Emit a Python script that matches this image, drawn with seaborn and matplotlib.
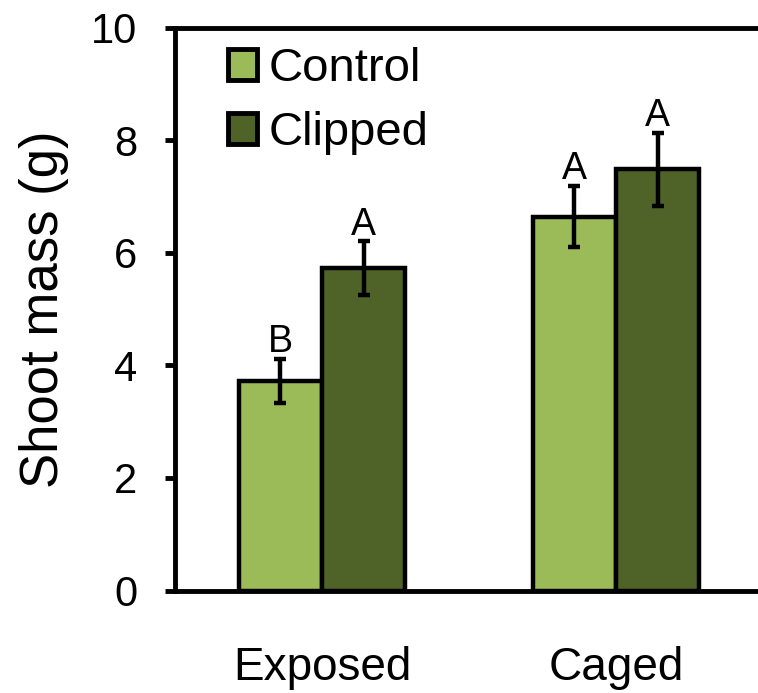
import matplotlib
matplotlib.use("Agg")
import matplotlib.pyplot as plt
import seaborn as sns
import pandas as pd
import numpy as np

# ---- data ----
sites = ["Exposed", "Caged"]
treatments = ["Control", "Clipped"]
control_mass = [3.72, 6.64]
clipped_mass = [5.72, 7.48]
control_se = [0.39, 0.54]
clipped_se = [0.48, 0.65]
control_letters = ["B", "A"]
clipped_letters = ["A", "A"]
y_ticks = [0, 2, 4, 6, 8, 10]
colors = ["#9BBB59", "#4F6228"]

df = pd.DataFrame({
    "site": sites * 2,
    "treatment": [treatments[0]] * 2 + [treatments[1]] * 2,
    "mass": control_mass + clipped_mass,
    "se": control_se + clipped_se,
    "letter": control_letters + clipped_letters,
})

sns.set_style("white")
plt.rcParams["font.family"] = ["Liberation Sans", "DejaVu Sans"]
plt.rcParams["text.color"] = "black"
plt.rcParams["axes.labelcolor"] = "black"
plt.rcParams["xtick.color"] = "black"
plt.rcParams["ytick.color"] = "black"

fig = plt.figure(figsize=(7.58, 6.93), dpi=100)
ax = fig.add_axes([0.2309, 0.1479, 0.7757, 0.8124])

sns.barplot(data=df, x="site", y="mass", hue="treatment", order=sites,
            hue_order=treatments, palette=colors, errorbar=None,
            width=0.565, edgecolor="black", linewidth=3.2, ax=ax,
            saturation=1)

# error bars and letters, positioned from the drawn bars
bars = [p for p in ax.patches if p.get_height() > 0]
i = 0
for t in treatments:
    for s in sites:
        r = df[(df.site == s) & (df.treatment == t)].iloc[0]
        p = bars[i]
        i += 1
        xc = p.get_x() + p.get_width() / 2
        ax.errorbar(xc, r["mass"], yerr=r["se"], fmt="none", ecolor="black",
                    elinewidth=3.2, capsize=4, capthick=3.2, zorder=5)
        ax.annotate(r["letter"], (xc, r["mass"] + r["se"]), xytext=(0, 5),
                    textcoords="offset points", ha="center", va="baseline",
                    fontsize=27, color="black")

ax.set_xlim(-0.5, 1.5)
ax.set_ylim(0, 10)
ax.set_yticks(y_ticks)
ax.set_yticklabels([str(v) for v in y_ticks])
ax.set_xlabel("")
ax.set_ylabel("Shoot mass (g)", fontsize=38, labelpad=16, color="black")

for side in ["left", "bottom", "top"]:
    ax.spines[side].set_visible(True)
    ax.spines[side].set_color("black")
    ax.spines[side].set_linewidth(3.5)
ax.spines["right"].set_visible(False)

ax.tick_params(axis="y", direction="out", length=7, width=3.5, colors="black",
               labelsize=30, pad=20, left=True)
ax.tick_params(axis="x", length=0, labelsize=33, pad=40, colors="black")

handles, labels = ax.get_legend_handles_labels()
leg = ax.legend(handles, labels, loc="upper left", bbox_to_anchor=(0.09, 0.965),
                frameon=False, fontsize=34, handlelength=0.62, handleheight=0.62,
                handletextpad=0.25, labelspacing=0.42, borderpad=0, borderaxespad=0)
for h in leg.legend_handles:
    h.set_edgecolor("black")
    h.set_linewidth(3.5)
for txt in leg.get_texts():
    txt.set_color("black")

fig.savefig("out.png", dpi=100)
